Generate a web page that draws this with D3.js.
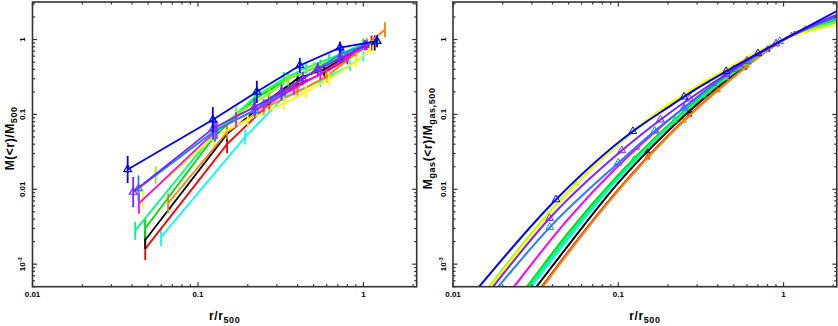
<!DOCTYPE html>
<html><head><meta charset="utf-8">
<script src="https://cdn.jsdelivr.net/npm/d3@7"></script>
<style>
body{margin:0;background:#fff}
svg{display:block}
text{font-family:"Liberation Sans",Arial,sans-serif;font-weight:bold;fill:#000}
</style>
</head><body>
<svg id="chart" width="838" height="326"></svg>
<script>
// ---------------- DATA ----------------
const seriesNames  = ["cyan","red","black","orange","green","springgreen","chartreuse","yellow","magenta","dodgerblue","purple","blue"];
const seriesColors = ["#00ffff","#ff0000","#000000","#ff8000","#00dd00","#00ff80","#80ff00","#ffff00","#ff00ff","#1e80ff","#8020ff","#0000ff"];
const triangleSeries = ["dodgerblue","purple","blue"];

// left panel: total mass M(<r)/M500 with error bars (half-length in dex)
const totalR = [
  [0.0598,0.193,0.33,0.55,0.83,1.0],
  [0.048,0.15,0.27,0.4,0.58,0.8,1.12],
  [0.048,0.15,0.27,0.4,0.58,0.8,1.17],
  [0.066,0.15,0.25,0.4,0.6,0.9,1.35],
  [0.0479,0.125,0.22,0.35,0.55,0.78,1.0],
  [0.0417,0.125,0.22,0.33,0.45,0.62,1.0],
  [0.0556,0.17,0.27,0.35,0.5,0.9,1.05],
  [0.0464,0.125,0.2,0.33,0.45,0.62,0.9,1.1],
  [0.044,0.13,0.17,0.25,0.38,0.55,0.8,1.05],
  [0.0437,0.127,0.22,0.32,0.53,0.74,1.21],
  [0.0406,0.1235,0.22,0.32,0.43,0.53,0.72,1.02],
  [0.0376,0.123,0.227,0.413,0.722,1.21]
];
const totalM = [
  [0.0023,0.05,0.17,0.28,0.45,0.6],
  [0.0016,0.04,0.14,0.25,0.36,0.55,0.9],
  [0.0021,0.055,0.16,0.3,0.4,0.6,0.9],
  [0.0065,0.058,0.12,0.2,0.32,0.65,1.35],
  [0.003,0.05,0.16,0.3,0.45,0.6,0.85],
  [0.0028,0.055,0.17,0.3,0.42,0.55,0.88],
  [0.0154,0.1,0.19,0.3,0.42,0.75,0.9],
  [0.0074,0.05,0.085,0.14,0.2,0.3,0.5,0.75],
  [0.0065,0.062,0.085,0.13,0.22,0.35,0.58,0.85],
  [0.0103,0.061,0.114,0.19,0.41,0.65,0.95],
  [0.0092,0.065,0.126,0.2,0.3,0.4,0.55,0.84],
  [0.0184,0.085,0.2,0.45,0.78,0.95]
];
const totalErr = [
  [0.12,0.1,0.09,0.08,0.07,0.07],
  [0.15,0.12,0.1,0.09,0.08,0.07,0.1],
  [0.12,0.1,0.09,0.08,0.08,0.07,0.1],
  [0.13,0.1,0.09,0.08,0.08,0.08,0.1],
  [0.13,0.12,0.1,0.09,0.08,0.07,0.07],
  [0.12,0.11,0.1,0.09,0.08,0.07,0.07],
  [0.12,0.1,0.1,0.09,0.08,0.07,0.07],
  [0.13,0.12,0.1,0.09,0.09,0.08,0.08,0.07],
  [0.14,0.12,0.1,0.09,0.08,0.08,0.07,0.07],
  [0.17,0.15,0.12,0.1,0.08,0.07,0.06],
  [0.2,0.15,0.12,0.1,0.09,0.08,0.07,0.07],
  [0.18,0.17,0.15,0.1,0.08,0.08]
];

// right panel: gas mass Mgas(<r)/Mgas,500 profiles
const gasR = [
  [0.0299,0.05,0.1,0.2,0.5,1,2.1],
  [0.0345,0.05,0.1,0.2,0.5,1,2.1],
  [0.032,0.05,0.1,0.2,0.5,1,2.1],
  [0.035,0.05,0.1,0.2,0.5,1,2.1],
  [0.0281,0.05,0.1,0.2,0.5,1,2.1],
  [0.0289,0.05,0.1,0.2,0.5,1,2.1],
  [0.0166,0.04,0.1,0.2,0.5,1,2.1],
  [0.0169,0.04,0.1,0.2,0.5,1,2.1],
  [0.0234,0.05,0.1,0.2,0.5,1,2.1],
  [0.0188,0.0385,0.1,0.166,0.25,0.5,1,2.1],
  [0.0175,0.0384,0.105,0.18,0.4,1,2.1],
  [0.0144,0.042,0.1225,0.2,0.3,0.5,1,2.1]
];
const gasM = [
  [5e-4,0.0022,0.0138,0.066,0.355,1,1.7],
  [5e-4,0.00148,0.0099,0.052,0.32,1,2.0],
  [5e-4,0.0018,0.0122,0.06,0.345,1,1.8],
  [5e-4,0.00143,0.0096,0.0508,0.317,1,2.1],
  [5e-4,0.00265,0.0155,0.0712,0.37,1,1.95],
  [5e-4,0.0024,0.0145,0.068,0.36,1,1.9],
  [5e-4,0.0055,0.04,0.13,0.42,1,1.75],
  [5e-4,0.0053,0.041,0.135,0.46,1,1.58],
  [5e-4,0.00405,0.0206,0.0824,0.392,1,2.05],
  [5e-4,0.0031,0.0225,0.06,0.122,0.4,1,2.0],
  [5e-4,0.0041,0.033,0.085,0.29,1,2.15],
  [5e-4,0.0073,0.0595,0.124,0.222,0.43,1,2.4]
];
const gasMarkR = [
  [0.193,0.33,0.55,0.83],
  [0.15,0.27,0.4,0.58,0.8,1.12],
  [0.15,0.27,0.4,0.58,0.8,1.17],
  [0.15,0.25,0.4,0.6,0.9,1.35],
  [0.125,0.22,0.35,0.55,0.78],
  [0.125,0.22,0.33,0.45,0.62],
  [0.0556,0.17,0.27,0.35,0.5,0.9],
  [0.125,0.2,0.33,0.45,0.62,0.9],
  [0.13,0.17,0.25,0.38,0.55,0.8],
  [0.0385,0.1,0.166,0.25,0.5,0.95],
  [0.0384,0.105,0.18,0.27,0.45,0.6,0.9],
  [0.042,0.1225,0.25,0.45,0.7]
];

const xDomain = [0.01, 2.1];
const yDomain = [5e-4, 3.17];
const xTickLabels = ["0.01","0.1","1"];
const yTickLabels = ["10^-3","0.01","0.1","1"];

// ---------------- DRAW ----------------
const svg = d3.select("#chart");
const panels = [
  {x0:32.5, x1:416.7, title:[["M",0],["(<r)/M",0],["500",1]], titleX:14},
  {x0:453, x1:836.8, title:[["M",0],["gas",1],["(<r)/M",0],["gas,500",1]], titleX:432}
];
const yTop = 2, yBot = 286.7;

panels.forEach((p, pi) => {
  const x = d3.scaleLog().domain(xDomain).range([p.x0, p.x1]);
  const y = d3.scaleLog().domain(yDomain).range([yBot, yTop]);
  const g = svg.append("g");
  const clipId = "clip" + pi;
  svg.append("clipPath").attr("id", clipId).append("rect")
    .attr("x", p.x0).attr("y", yTop).attr("width", p.x1 - p.x0).attr("height", yBot - yTop);
  const plot = g.append("g").attr("clip-path", `url(#${clipId})`);

  if (pi === 0) {
    seriesNames.forEach((name, i) => {
      const pts = totalR[i].map((r, k) => ({r, m: totalM[i][k], e: totalErr[i][k]}));
      const c = seriesColors[i];
      plot.append("path").datum(pts)
        .attr("d", d3.line().x(d => x(d.r)).y(d => y(d.m)))
        .attr("fill","none").attr("stroke", c).attr("stroke-width", 1.8);
      plot.selectAll(null).data(pts).enter().append("line")
        .attr("x1", d => x(d.r)).attr("x2", d => x(d.r))
        .attr("y1", d => y(d.m * Math.pow(10, -d.e))).attr("y2", d => y(d.m * Math.pow(10, d.e)))
        .attr("stroke", c).attr("stroke-width", 1.8);
      if (triangleSeries.includes(name)) {
        plot.selectAll(null).data(pts).enter().append("path")
          .attr("d", d3.symbol().type(d3.symbolTriangle).size(26))
          .attr("transform", d => `translate(${x(d.r)},${y(d.m)})`)
          .attr("fill","none").attr("stroke", c).attr("stroke-width", 1.2);
      }
    });
  } else {
    seriesNames.forEach((name, i) => {
      const pts = gasR[i].map((r, k) => ({r, m: gasM[i][k]}));
      const c = seriesColors[i];
      const path = plot.append("path").datum(pts)
        .attr("d", d3.line().x(d => x(d.r)).y(d => y(d.m)).curve(d3.curveMonotoneX))
        .attr("fill","none").attr("stroke", c).attr("stroke-width", 2);
      const node = path.node();
      const L = node.getTotalLength();
      const big = triangleSeries.includes(name);
      gasMarkR[i].forEach(r => {
        const px = x(r);
        let lo = 0, hi = L;
        for (let it = 0; it < 40; it++) {
          const mid = (lo + hi) / 2;
          if (node.getPointAtLength(mid).x < px) lo = mid; else hi = mid;
        }
        const pt = node.getPointAtLength(lo);
        plot.append("path")
          .attr("d", d3.symbol().type(d3.symbolTriangle).size(big ? 26 : 10))
          .attr("transform", `translate(${pt.x},${pt.y})`)
          .attr("fill","none").attr("stroke", c).attr("stroke-width", 1);
      });
    });
  }

  // frame
  const axisColor = "#333";
  g.append("rect").attr("x", p.x0).attr("y", yTop).attr("width", p.x1 - p.x0).attr("height", yBot - yTop)
    .attr("fill","none").attr("stroke", axisColor).attr("stroke-width", 1.6);
  const isMajor = v => Math.abs(Math.log10(v) - Math.round(Math.log10(v))) < 1e-6;
  x.ticks().forEach(v => {
    const len = isMajor(v) ? 4.5 : 2.5, xv = x(v);
    g.append("line").attr("x1", xv).attr("x2", xv).attr("y1", yBot).attr("y2", yBot - len).attr("stroke", axisColor).attr("stroke-width", 1.2);
    g.append("line").attr("x1", xv).attr("x2", xv).attr("y1", yTop).attr("y2", yTop + len).attr("stroke", axisColor).attr("stroke-width", 1.2);
  });
  y.ticks().forEach(v => {
    const len = isMajor(v) ? 4.5 : 2.5, yv = y(v);
    g.append("line").attr("x1", p.x0).attr("x2", p.x0 + len).attr("y1", yv).attr("y2", yv).attr("stroke", axisColor).attr("stroke-width", 1.2);
    g.append("line").attr("x1", p.x1).attr("x2", p.x1 - len).attr("y1", yv).attr("y2", yv).attr("stroke", axisColor).attr("stroke-width", 1.2);
  });
  // x tick labels
  xTickLabels.forEach(t => {
    g.append("text").attr("x", x(+t)).attr("y", yBot + 10.5).attr("text-anchor","middle")
      .attr("font-size", 8).text(t);
  });
  // y tick labels (rotated)
  yTickLabels.forEach(t => {
    const parts = t.split("^");
    const val = parts.length > 1 ? Math.pow(10, +parts[1]) : +t;
    const tx = g.append("text").attr("text-anchor","middle").attr("font-size", 8)
      .attr("transform", `translate(${p.x0 - 7.5},${y(val)}) rotate(-90)`);
    tx.append("tspan").text(parts[0]);
    if (parts.length > 1) tx.append("tspan").attr("dy", -3).attr("font-size", 6).text(parts[1]);
  });
  // y title
  const yt = g.append("text").attr("text-anchor","middle").attr("font-size", 12).attr("letter-spacing", 0.6)
    .attr("transform", `translate(${p.titleX},${(yTop + yBot) / 2 - 6}) rotate(-90)`);
  let sub = 0;
  p.title.forEach(([s, isSub]) => {
    const ts = yt.append("tspan").text(s);
    if (isSub && !sub) { ts.attr("dy", 3).attr("font-size", 9); sub = 1; }
    else if (isSub) { ts.attr("font-size", 9); }
    else if (!isSub && sub) { ts.attr("dy", -3); sub = 0; }
  });
  // x title
  const xt = g.append("text").attr("text-anchor","middle").attr("font-size", 12).attr("letter-spacing", 0.6)
    .attr("x", (p.x0 + p.x1) / 2).attr("y", 320);
  xt.append("tspan").text("r/r");
  xt.append("tspan").attr("dy", 3).attr("font-size", 9).text("500");
});
</script>
</body></html>
